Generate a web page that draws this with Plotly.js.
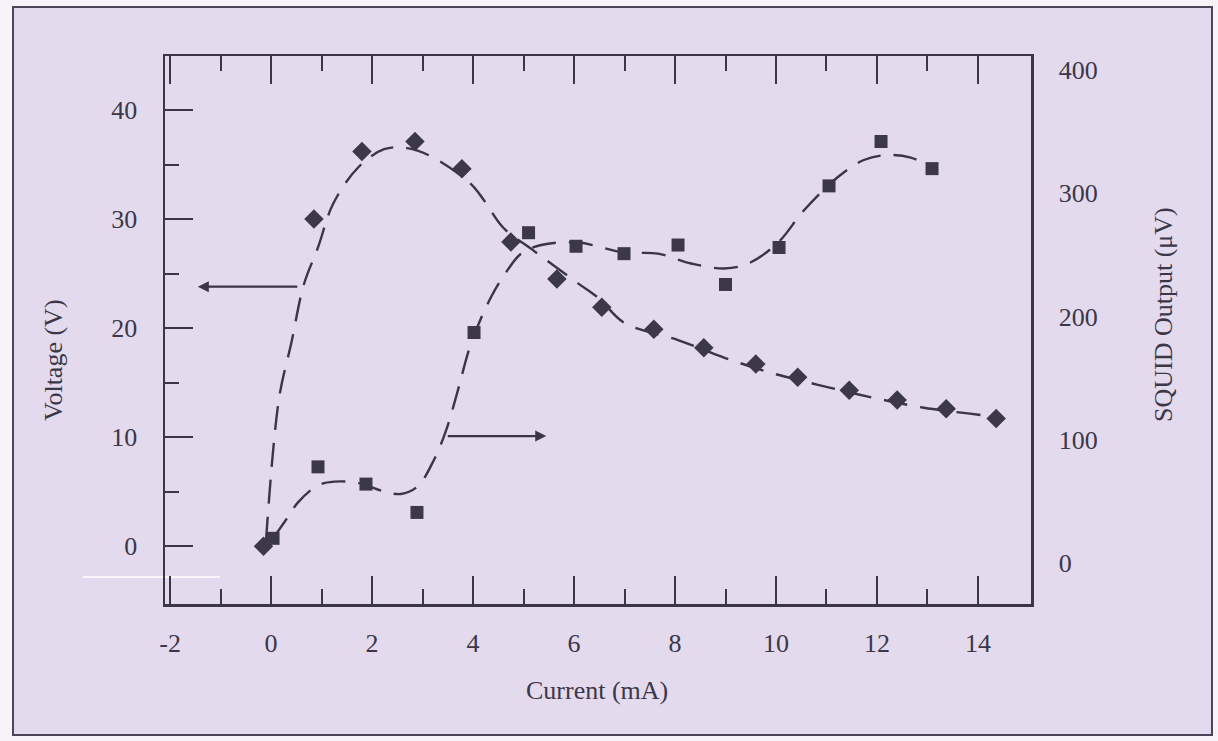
<!DOCTYPE html>
<html>
<head>
<meta charset="utf-8">
<script src="https://cdn.plot.ly/plotly-3.0.1.min.js"></script>
<style>html,body{margin:0;padding:0;background:#f6f4f8;}#chart{width:1218px;height:741px;}</style>
</head>
<body>
<div id="chart"></div>
<script>
// Voltage data (diamonds), left axis
const voltX = [-0.15, 0.85, 1.8, 2.85, 3.78, 4.75, 5.66, 6.55, 7.58, 8.57, 9.6, 10.43, 11.45, 12.4, 13.37, 14.36];
const voltY = [0, 30, 36.2, 37.1, 34.6, 27.9, 24.5, 21.9, 19.9, 18.2, 16.7, 15.5, 14.3, 13.4, 12.6, 11.7];
// Voltage fitted dashed curve
const voltCurveX = [-0.1, 0.16, 0.4, 0.65, 0.93, 1.23, 1.72, 2.24, 2.7, 3.23, 3.96, 4.22, 4.6, 5.2, 6.08, 6.5, 6.99, 8.06, 8.97, 9.9, 10.83, 11.94, 12.93, 14.12];
const voltCurveY = [0.5, 13.6, 18.6, 24, 27.4, 31.4, 34.7, 36.4, 36.5, 35.6, 33.2, 31.7, 29.2, 27.1, 24.1, 22.7, 20.5, 18.9, 17.3, 15.9, 14.8, 13.6, 12.7, 12.0];
// SQUID output data (squares), right axis
const squidX = [0.04, 0.93, 1.88, 2.89, 4.02, 5.1, 6.04, 6.99, 8.06, 9.0, 10.06, 11.05, 12.08, 13.09];
const squidY = [20, 78, 64, 41, 187, 268, 257, 251, 258, 226, 256, 306, 342, 320];
// SQUID fitted dashed curve
const squidCurveX = [0.04, 0.33, 0.53, 0.93, 1.25, 1.72, 2.24, 2.57, 2.9, 3.23, 3.47, 3.7, 3.96, 4.36, 4.69, 4.95, 5.35, 6.08, 6.99, 7.66, 8.32, 8.97, 9.45, 10.04, 10.55, 11.22, 11.74, 12.2, 12.67, 13.13];
const squidCurveY = [20, 37, 49, 63, 66, 65, 58, 56, 62, 84, 108, 140, 178, 216, 238, 251, 258, 260, 252, 251, 243, 239, 243, 260, 286, 313, 327, 331, 329, 320];
// Axis ticks
const xTicks = [-2, 0, 2, 4, 6, 8, 10, 12, 14];
const xMinorTicks = [-1, 1, 3, 5, 7, 9, 11, 13];
const voltTicks = [0, 10, 20, 30, 40];
const voltMinorTicks = [5, 15, 25, 35];
const squidTicks = [0, 100, 200, 300, 400];

const ink = '#3b3747';
const lineCol = '#3a3644';
const fontFam = '"Liberation Serif", "Times New Roman", serif';

const traces = [
  {x: voltCurveX, y: voltCurveY, mode: 'lines', line: {shape: 'spline', smoothing: 1, color: lineCol, width: 2.4, dash: '24px,13px'}, yaxis: 'y', hoverinfo: 'skip', showlegend: false},
  {x: squidCurveX, y: squidCurveY, mode: 'lines', line: {shape: 'spline', smoothing: 1, color: lineCol, width: 2.4, dash: '24px,13px'}, yaxis: 'y2', hoverinfo: 'skip', showlegend: false},
  {x: voltX, y: voltY, mode: 'markers', marker: {symbol: 'diamond', size: 15, color: '#3d3848'}, yaxis: 'y', showlegend: false, name: 'Voltage'},
  {x: squidX, y: squidY, mode: 'markers', marker: {symbol: 'square', size: 13, color: '#3d3848'}, yaxis: 'y2', showlegend: false, name: 'SQUID'}
];

const layout = {
  width: 1218, height: 741,
  margin: {l: 165, r: 187, t: 56, b: 137},
  paper_bgcolor: '#f6f4f8',
  plot_bgcolor: 'rgba(0,0,0,0)',
  font: {family: fontFam, color: ink, size: 26},
  showlegend: false,
  xaxis: {
    range: [-2.1, 15.05], showgrid: false, zeroline: false,
    showline: true, linecolor: lineCol, linewidth: 2.5, mirror: 'ticks',
    ticks: 'inside', ticklen: 28, tickwidth: 2, tickcolor: lineCol,
    tickmode: 'array', tickvals: xTicks, ticktext: xTicks.map(String),
    minor: {tickmode: 'array', tickvals: xMinorTicks, ticks: 'inside', ticklen: 15, tickwidth: 2, tickcolor: lineCol, showgrid: false},
    tickfont: {family: fontFam, size: 26, color: ink}, ticklabelstandoff: 14
  },
  yaxis: {
    range: [-5.3, 44.95], showgrid: false, zeroline: false,
    showline: true, linecolor: lineCol, linewidth: 2.5, mirror: false,
    ticks: 'inside', ticklen: 28, tickwidth: 2, tickcolor: lineCol,
    tickmode: 'array', tickvals: voltTicks, ticktext: voltTicks.map(String),
    minor: {tickmode: 'array', tickvals: voltMinorTicks, ticks: 'inside', ticklen: 14, tickwidth: 2, tickcolor: lineCol, showgrid: false},
    tickfont: {family: fontFam, size: 26, color: ink}, ticklabelstandoff: 20
  },
  yaxis2: {
    range: [-33.3, 411.4], overlaying: 'y', side: 'right', showgrid: false, zeroline: false,
    showline: true, linecolor: lineCol, linewidth: 2.5, ticks: '',
    tickmode: 'array', tickvals: squidTicks, ticktext: squidTicks.map(String),
    tickfont: {family: fontFam, size: 26, color: ink}, ticklabelstandoff: 20
  },
  shapes: [
    {type: 'rect', xref: 'paper', yref: 'paper', x0: -0.1755, x1: 1.209, y0: -0.239, y1: 1.0894,
     fillcolor: '#e3daee', line: {color: '#4a4656', width: 2}, layer: 'below'},
    {type: 'line', xref: 'paper', yref: 'paper', x0: (83-165)/866, x1: (220-165)/866, y0: (604-577)/548, y1: (604-577)/548,
     line: {color: '#f8f6fa', width: 2}, layer: 'below'}
  ],
  annotations: [
    {text: 'Voltage (V)', xref: 'paper', yref: 'paper', x: (53-165)/866, y: (604-360)/548, showarrow: false, textangle: -90, font: {size: 26, family: fontFam, color: ink}, xanchor: 'center', yanchor: 'middle'},
    {text: 'SQUID Output (μV)', xref: 'paper', yref: 'paper', x: (1163-165)/866, y: (604-315)/548, showarrow: false, textangle: -90, font: {size: 26, family: fontFam, color: ink}, xanchor: 'center', yanchor: 'middle'},
    {text: 'Current (mA)', xref: 'paper', yref: 'paper', x: (597-165)/866, y: (604-690)/548, showarrow: false, font: {size: 26, family: fontFam, color: ink}, xanchor: 'center', yanchor: 'middle'},
    {text: '', xref: 'x', yref: 'y', x: -1.45, y: 23.8, ax: 0.55, ay: 23.8, axref: 'x', ayref: 'y', showarrow: true, arrowhead: 2, arrowsize: 1, arrowwidth: 2.2, arrowcolor: lineCol},
    {text: '', xref: 'x', yref: 'y', x: 5.45, y: 10.1, ax: 3.47, ay: 10.1, axref: 'x', ayref: 'y', showarrow: true, arrowhead: 2, arrowsize: 1, arrowwidth: 2.2, arrowcolor: lineCol}
  ]
};

Plotly.newPlot('chart', traces, layout, {displayModeBar: false, staticPlot: true});
</script>
</body>
</html>
